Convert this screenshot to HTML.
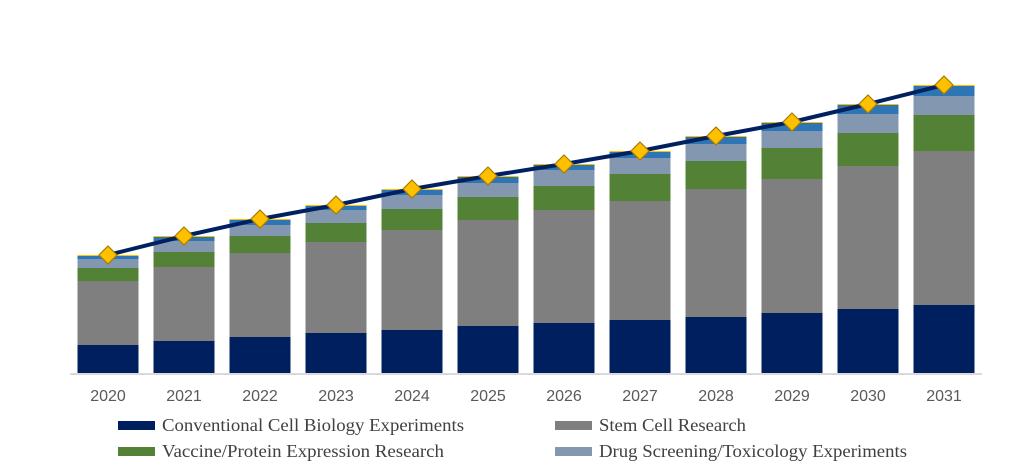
<!DOCTYPE html>
<html><head><meta charset="utf-8"><style>
body{margin:0;background:#fff;width:1015px;height:475px;overflow:hidden}
svg{display:block}
</style></head><body>
<svg id="chart" width="1015" height="475" xmlns="http://www.w3.org/2000/svg"></svg>
<script>
const categories=["2020","2021","2022","2023","2024","2025","2026","2027","2028","2029","2030","2031"];
const conventional=[28,32,36,40,43,47,50,53,56,60,64,68];
const stemCell=[64,74,84,91,100,106,113,119,128,134,143,154];
const vaccine=[13,15,17,19,21,23,24,27,28,31,33,36];
const drugScreening=[9,11,11,13,14,14,16,16,17,17,19,19];
const other=[3,4,5,4,5,6,5,6,7,8,9,10];
const minor=[1,1,1,1,1,1,1,1,1,1,1,1];
const seriesList=[
 {name:"conventional",vals:conventional,color:"#001f5f"},
 {name:"stem-cell",vals:stemCell,color:"#7f7f7f"},
 {name:"vaccine",vals:vaccine,color:"#538135"},
 {name:"drug-screening",vals:drugScreening,color:"#8497b0"},
 {name:"other",vals:other,color:"#2e75b6"},
 {name:"minor",vals:minor,color:"#ffc000"}
];
const NS="http://www.w3.org/2000/svg";
const svg=document.getElementById('chart');
const x0=70,slot=76,bw=61,baseY=373;
function xC(i){return x0+slot*i+slot/2;}
function yS(v){return baseY-v;}
function mk(t,a,p){const e=document.createElementNS(NS,t);for(const k in a)e.setAttribute(k,a[k]);(p||svg).appendChild(e);return e;}
const totals=categories.map((c,i)=>seriesList.reduce((s,se)=>s+se.vals[i],0));
categories.forEach((c,i)=>{
 let acc=0;
 seriesList.forEach(se=>{
  const v=se.vals[i];
  const r=mk('rect',{x:xC(i)-bw/2,y:yS(acc+v),width:bw,height:v,fill:se.color});
  
  
  acc+=v;
 });
 const t=mk('text',{x:xC(i),y:401,'text-anchor':'middle','font-family':'Liberation Sans, sans-serif','font-size':'16',fill:'#595959'});
 t.textContent=c;
 
 
});
const ax=mk('line',{x1:x0,x2:x0+slot*12,y1:baseY+1,y2:baseY+1,stroke:'#d9d9d9','stroke-width':2});


const pts=totals.map((t,i)=>xC(i)+','+yS(t)).join(' ');
const ln=mk('polyline',{points:pts,fill:'none',stroke:'#002060','stroke-width':4});


totals.forEach((t,i)=>{
 const x=xC(i),y=yS(t),d=9;
 const p=mk('polygon',{points:`${x},${y-d} ${x+d},${y} ${x},${y+d} ${x-d},${y}`,fill:'#ffc000',stroke:'#a67c00','stroke-width':1.2});
 
 
});
const legend=[["Conventional Cell Biology Experiments","#001f5f",118,425,302],["Stem Cell Research","#7f7f7f",555,425,147],["Vaccine/Protein Expression Research","#538135",118,451,282],["Drug Screening/Toxicology Experiments","#8497b0",555,451,308]];
legend.forEach(l=>{
 const g=mk('g',{});
 
 
 mk('rect',{x:l[2],y:l[3]-4,width:37,height:9,fill:l[1]},g);
 const t=mk('text',{x:l[2]+44,y:l[3]+6,'font-family':'Liberation Serif, serif','font-size':'18',fill:'#404040',textLength:l[4],lengthAdjust:'spacingAndGlyphs'},g);
 t.textContent=l[0];
});
</script>
</body></html>
